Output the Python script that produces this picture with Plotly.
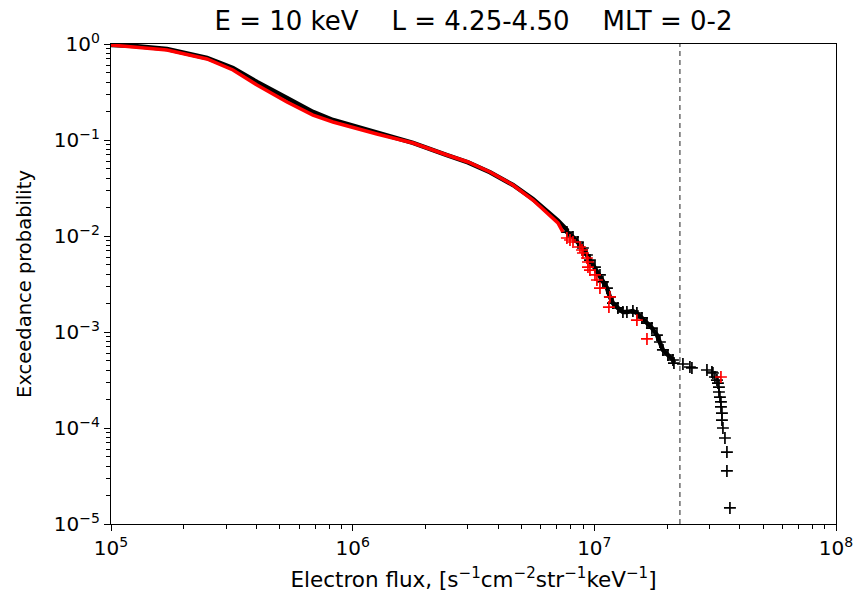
import plotly.graph_objects as go

# ---- data ----
# black: smooth part of the empirical exceedance curve
black_line_flux = [1.0e5, 1.257e5, 1.705e5, 2.496e5, 3.197e5, 4.019e5, 5.348e5, 6.85e5, 8.29e5,
                   1.297e6, 1.776e6, 2.455e6, 3.0e6, 3.70e6, 4.605e6, 5.57e6, 6.55e6, 7.07e6, 7.70e6]
black_line_prob = [0.976, 0.953, 0.887, 0.715, 0.562, 0.402, 0.274, 0.196, 0.1616,
                   0.116, 0.0935, 0.0695, 0.0585, 0.0462, 0.0340, 0.0243, 0.0174, 0.0145, 0.01155]

# black: individual samples in the sparse upper tail
black_pts_flux = [7.70e6, 8.16e6, 8.55e6, 8.97e6, 9.32e6, 9.59e6, 1.006e7, 1.055e7, 1.085e7, 1.128e7,
                  1.160e7, 1.194e7, 1.252e7, 1.313e7, 1.364e7, 1.444e7, 1.500e7, 1.574e7, 1.651e7,
                  1.731e7, 1.816e7, 1.868e7, 1.922e7, 2.016e7, 2.115e7, 2.135e7]
black_pts_prob = [0.0110, 0.00976, 0.00866, 0.0075, 0.00634, 0.00562, 0.00475, 0.00393, 0.00332, 0.00287,
                  0.00232, 0.0020, 0.00178, 0.001615, 0.001615, 0.001655, 0.001577, 0.0014, 0.00124,
                  0.0011, 0.00093, 0.000787, 0.00065, 0.000576, 0.000511, 0.000475]
black_tail_flux = [2.326e7, 2.486e7, 2.534e7, 2.924e7, 3.066e7, 3.095e7, 3.155e7, 3.216e7, 3.247e7,
                   3.278e7, 3.278e7, 3.309e7, 3.341e7, 3.341e7, 3.373e7, 3.373e7, 3.405e7, 3.471e7,
                   3.537e7, 3.537e7, 3.64e7]
black_tail_prob = [0.000464, 0.000432, 0.000422, 0.000402, 0.000383, 0.000374, 0.00034, 0.000316, 0.000294,
                   0.000267, 0.000237, 0.00021, 0.000187, 0.000166, 0.000143, 0.000121, 0.0001, 7.87e-5,
                   5.62e-5, 3.57e-5, 1.47e-5]

# red: second sample
red_line_flux = [1.0e5, 1.705e5, 2.496e5, 3.197e5, 4.019e5, 5.348e5, 6.85e5, 8.29e5, 1.26e6,
                 1.776e6, 2.455e6, 3.0e6, 3.70e6, 4.605e6, 5.57e6, 6.55e6, 7.07e6, 7.41e6]
red_line_prob = [0.976, 0.866, 0.698, 0.536, 0.374, 0.249, 0.182, 0.154, 0.1155,
                 0.0931, 0.0698, 0.059, 0.0464, 0.034, 0.0237, 0.0166, 0.0137, 0.011]
red_pts_flux = [7.70e6, 7.93e6, 8.16e6, 8.72e6, 8.89e6, 8.97e6, 9.32e6, 9.41e6, 9.41e6, 9.59e6,
                1.006e7, 1.025e7, 1.055e7, 1.160e7, 1.149e7, 1.50e7, 1.651e7, 3.341e7]
red_pts_prob = [0.00953, 0.00908, 0.00866, 0.00768, 0.00715, 0.00665, 0.0059, 0.00536, 0.00475, 0.00442,
                0.00393, 0.00348, 0.00287, 0.00232, 0.00182, 0.00133, 0.000846, 0.00034]

threshold_flux = 2.26e7

x_ticks = [1e5, 1e6, 1e7, 1e8]
x_ticktext = ["10<sup>5</sup>", "10<sup>6</sup>", "10<sup>7</sup>", "10<sup>8</sup>"]
y_ticks = [1e-5, 1e-4, 1e-3, 1e-2, 1e-1, 1e0]
y_ticktext = ["10<sup>\u22125</sup>", "10<sup>\u22124</sup>", "10<sup>\u22123</sup>",
              "10<sup>\u22122</sup>", "10<sup>\u22121</sup>", "10<sup>0</sup>"]
minor_mult = [2, 3, 4, 5, 6, 7, 8, 9]
x_minor = [m * d for d in x_ticks[:-1] for m in minor_mult]
y_minor = [m * d for d in y_ticks[:-1] for m in minor_mult]

# ---- figure ----
fig = go.Figure()

fig.add_trace(go.Scatter(x=black_line_flux + black_pts_flux, y=black_line_prob + black_pts_prob,
                         mode="lines", line=dict(color="black", width=4.5), showlegend=False))
fig.add_trace(go.Scatter(x=black_pts_flux + black_tail_flux, y=black_pts_prob + black_tail_prob,
                         mode="markers",
                         marker=dict(symbol="cross-thin", size=8.5, line=dict(color="black", width=1.7)),
                         showlegend=False))
fig.add_trace(go.Scatter(x=red_line_flux, y=red_line_prob, mode="lines",
                         line=dict(color="red", width=3.5), showlegend=False))
fig.add_trace(go.Scatter(x=red_pts_flux, y=red_pts_prob, mode="markers",
                         marker=dict(symbol="cross-thin", size=8.5, line=dict(color="red", width=1.7)),
                         showlegend=False))

fig.add_shape(type="line", xref="x", yref="paper", x0=threshold_flux, x1=threshold_flux, y0=0, y1=1,
              line=dict(color="#555555", width=1.3, dash="5px,4px"))

axis_common = dict(
    showline=True, linecolor="black", linewidth=1.2, mirror=True,
    ticks="outside", ticklen=6, tickwidth=1.1, tickcolor="black",
    showgrid=False, zeroline=False, automargin=False,
    tickfont=dict(family="DejaVu Sans", size=20, color="black"),
)

fig.update_xaxes(type="log", range=[5, 8], tickvals=x_ticks, ticktext=x_ticktext,
                 minor=dict(tickvals=x_minor, ticks="outside", ticklen=3.5, tickwidth=0.9,
                            tickcolor="black", showgrid=False),
                 title=dict(text="Electron flux, [s<sup>\u22121</sup>cm<sup>\u22122</sup>str<sup>\u22121</sup>keV<sup>\u22121</sup>]",
                            font=dict(family="DejaVu Sans", size=21.5, color="black"), standoff=12),
                 **axis_common)
fig.update_yaxes(type="log", range=[-5, 0], tickvals=y_ticks, ticktext=y_ticktext,
                 minor=dict(tickvals=y_minor, ticks="outside", ticklen=3.5, tickwidth=0.9,
                            tickcolor="black", showgrid=False),
                 title=dict(text="Exceedance probability",
                            font=dict(family="DejaVu Sans", size=19.5, color="black"), standoff=16),
                 **axis_common)

fig.update_layout(
    width=860, height=597,
    margin=dict(l=111, r=24, t=44, b=73, autoexpand=False),
    paper_bgcolor="white", plot_bgcolor="white",
    font=dict(family="DejaVu Sans", color="black"),
    title=dict(text="E = 10 keV&nbsp;&nbsp;&nbsp;&nbsp;L = 4.25-4.50&nbsp;&nbsp;&nbsp;&nbsp;MLT = 0-2",
               x=(111 + (860 - 24)) / 2 / 860, xanchor="center", y=1 - 21 / 597, yanchor="middle",
               font=dict(family="DejaVu Sans", size=26, color="black")),
)

fig.write_html("out.html")
